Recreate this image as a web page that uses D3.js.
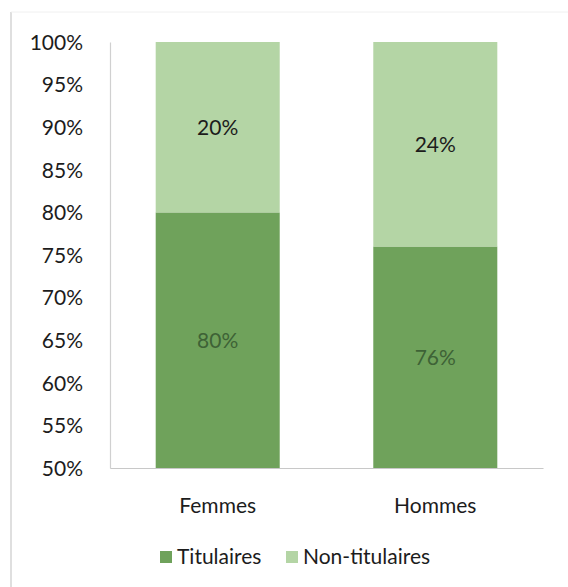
<!DOCTYPE html>
<html>
<head>
<meta charset="utf-8">
<script src="https://cdn.jsdelivr.net/npm/d3@7"></script>
<style>
  body { margin: 0; background: #fff; }
  text { font-family: Lato, "Open Sans", sans-serif; }
</style>
</head>
<body>
<div class="container"></div>
<script>
// chart values
const categories = ['Femmes', 'Hommes'];
const titulaires = [80, 76];
const nonTitulaires = [20, 24];
const yTicks = [50, 55, 60, 65, 70, 75, 80, 85, 90, 95, 100];
const seriesNames = ['Titulaires', 'Non-titulaires'];

// svg dimensions
const width = 568;
const height = 587;
const darkGreen = '#6fa25b';
const lightGreen = '#b4d5a5';

const svg = d3.select('.container')
    .append('svg')
    .attr('width', width)
    .attr('height', height);

// frame
svg.append('line')
    .attr('x1', 11).attr('x2', 11).attr('y1', 12).attr('y2', height)
    .attr('stroke', '#d4d4d4').attr('stroke-width', 1.5);
svg.append('line')
    .attr('x1', 11).attr('x2', width).attr('y1', 12).attr('y2', 12)
    .attr('stroke', '#f0f0f0').attr('stroke-width', 1);

const yScale = d3.scaleLinear().domain([50, 100]).range([468, 42]);
const xScale = d3.scaleBand().domain(categories).range([110, 543]).paddingInner(0.43).paddingOuter(0.21);

// y axis
const yAxis = d3.axisLeft(yScale).tickValues(yTicks).tickFormat(d => d + '%').tickSize(0).tickPadding(27);
const gy = svg.append('g').attr('transform', 'translate(110,0)').call(yAxis);
gy.select('.domain').attr('stroke', '#d0d0d0').attr('stroke-width', 1.2);
gy.selectAll('text').attr('font-size', 21).attr('fill', '#1c1c1c').attr('dy', '0.35em');

// stacked bars
const rows = categories.map((c, i) => ({ cat: c, t: titulaires[i], n: nonTitulaires[i] }));

svg.selectAll('.bar-t')
    .data(rows)
    .enter()
    .append('rect')
    .attr('x', d => xScale(d.cat))
    .attr('width', xScale.bandwidth())
    .attr('y', d => yScale(d.t))
    .attr('height', d => yScale(50) - yScale(d.t))
    .style('fill', darkGreen);

svg.selectAll('.bar-n')
    .data(rows)
    .enter()
    .append('rect')
    .attr('x', d => xScale(d.cat))
    .attr('width', xScale.bandwidth())
    .attr('y', d => yScale(d.t + d.n))
    .attr('height', d => yScale(d.t) - yScale(d.t + d.n))
    .style('fill', lightGreen);

// value labels
svg.selectAll('.lab-t')
    .data(rows)
    .enter()
    .append('text')
    .attr('x', d => xScale(d.cat) + xScale.bandwidth() / 2)
    .attr('y', d => (yScale(d.t) + yScale(50)) / 2)
    .attr('dy', '0.35em')
    .attr('text-anchor', 'middle')
    .attr('font-size', 21)
    .attr('fill', '#3e6236')
    .text(d => d.t + '%');

svg.selectAll('.lab-n')
    .data(rows)
    .enter()
    .append('text')
    .attr('x', d => xScale(d.cat) + xScale.bandwidth() / 2)
    .attr('y', d => (yScale(d.t) + yScale(d.t + d.n)) / 2)
    .attr('dy', '0.35em')
    .attr('text-anchor', 'middle')
    .attr('font-size', 21)
    .attr('fill', '#1c1c1c')
    .text(d => d.n + '%');

// x axis baseline + labels
const xAxis = d3.axisBottom(xScale).tickSize(0).tickPadding(30);
const gx = svg.append('g').attr('transform', `translate(0,${yScale(50)})`).call(xAxis);
gx.select('.domain').attr('stroke', '#c8c8c8').attr('stroke-width', 1.2);
gx.selectAll('text').attr('font-size', 21).attr('fill', '#1c1c1c');

// legend
const legend = svg.append('g');
const legendX = [160, 286];
const legendColors = [darkGreen, lightGreen];
seriesNames.forEach((name, i) => {
    legend.append('rect')
        .attr('x', legendX[i]).attr('y', 551)
        .attr('width', 12).attr('height', 12)
        .style('fill', legendColors[i]);
    legend.append('text')
        .attr('x', legendX[i] + 17).attr('y', 564)
        .attr('font-size', 21)
        .attr('fill', '#1c1c1c')
        .text(name);
});
</script>
</body>
</html>
